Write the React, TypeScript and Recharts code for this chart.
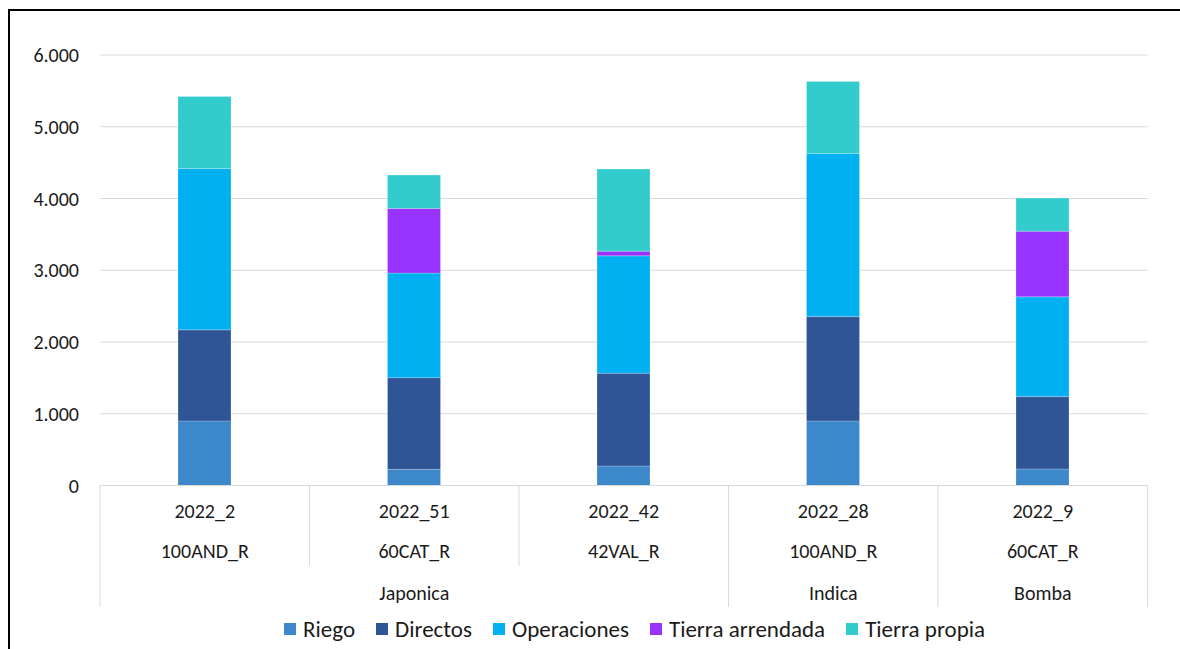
import { Bar, BarChart, CartesianGrid, Legend, XAxis, YAxis } from 'recharts';

const categories = ['2022_2', '2022_51', '2022_42', '2022_28', '2022_9'];
const varieties = ['100AND_R', '60CAT_R', '42VAL_R', '100AND_R', '60CAT_R'];
const groups = ['Japonica', 'Japonica', 'Japonica', 'Indica', 'Bomba'];

const riego = [900, 226, 272, 900, 230];
const directos = [1269, 1277, 1293, 1454, 1009];
const operaciones = [2249, 1457, 1636, 2274, 1390];
const tierraArrendada = [0, 901, 65, 0, 916];
const tierraPropia = [1005, 465, 1144, 1004, 461];

const yTicks = [0, 1000, 2000, 3000, 4000, 5000, 6000];

const series = [
  { key: 'riego', name: 'Riego', color: '#3d87cb', values: riego },
  { key: 'directos', name: 'Directos', color: '#2f5597', values: directos },
  { key: 'operaciones', name: 'Operaciones', color: '#00b0f0', values: operaciones },
  { key: 'arrendada', name: 'Tierra arrendada', color: '#9933ff', values: tierraArrendada },
  { key: 'propia', name: 'Tierra propia', color: '#33cccc', values: tierraPropia },
];

const data = categories.map((cat, i) => {
  const row: Record<string, string | number> = { cat };
  series.forEach((s) => {
    row[s.key] = s.values[i];
  });
  return row;
});

const FONT = 'Carlito, Calibri, Lato, sans-serif';
const TEXT = '#1a1a1a';
const LINE = '#d9d9d9';
const TICK_SIZE = 20;

const formatThousands = (v: number) => String(v).replace(/\B(?=(\d{3})+(?!\d))/g, '.');

function CategoryTick(props: any) {
  const { x, y, payload } = props;
  const i: number = payload.index;
  const half: number = payload.offset ?? 104.75;
  const left = x - half;
  const firstInGroup = i === 0 || groups[i] !== groups[i - 1];
  const isLast = i === categories.length - 1;
  let groupSize = 1;
  while (i + groupSize < groups.length && groups[i + groupSize] === groups[i]) groupSize++;

  const textProps = {
    textAnchor: 'middle' as const,
    dominantBaseline: 'middle' as const,
    fontSize: TICK_SIZE,
    fill: TEXT,
    fontFamily: FONT,
  };

  return (
    <g>
      <line x1={left} x2={left} y1={y} y2={y + (firstInGroup ? 121.5 : 80)} stroke={LINE} strokeWidth={1} />
      {isLast && <line x1={x + half} x2={x + half} y1={y} y2={y + 121.5} stroke={LINE} strokeWidth={1} />}
      <text x={x} y={y + 28} {...textProps}>
        {categories[i]}
      </text>
      <text x={x} y={y + 68} {...textProps}>
        {varieties[i]}
      </text>
      {firstInGroup && (
        <text x={x + (groupSize - 1) * half} y={y + 110} {...textProps}>
          {groups[i]}
        </text>
      )}
    </g>
  );
}

function LegendContent(props: any) {
  const order = series.map((s) => s.name);
  const items = [...(props.payload ?? [])].sort(
    (a: any, b: any) => order.indexOf(a.value) - order.indexOf(b.value),
  );
  return (
    <div style={{ display: 'flex', alignItems: 'center', height: 24, fontFamily: FONT, fontSize: 23, color: TEXT }}>
      {items.map((it: any) => (
        <div key={it.value} style={{ display: 'flex', alignItems: 'center', marginRight: 21 }}>
          <span style={{ display: 'inline-block', width: 12, height: 12, background: it.color, marginRight: 7 }} />
          <span>{it.value}</span>
        </div>
      ))}
    </div>
  );
}

export default function App() {
  return (
    <div style={{ position: 'fixed', left: 0, top: 0, width: 1180, height: 649, overflow: 'hidden', background: '#fff' }}>
      <div
        style={{
          position: 'absolute',
          left: 7.5,
          top: 9,
          width: 1300,
          height: 800,
          border: '2.2px solid #000',
          boxSizing: 'border-box',
        }}
      />
      <div style={{ position: 'absolute', left: 0, top: 0 }}>
        <BarChart
          width={1180}
          height={649}
          data={data}
          margin={{ top: 55, right: 32.5, bottom: 17.5, left: 0 }}
          barSize={53}
        >
          <CartesianGrid vertical={false} stroke={LINE} />
          <XAxis
            dataKey="cat"
            height={122}
            interval={0}
            tickLine={false}
            tickSize={0}
            tickMargin={0}
            axisLine={{ stroke: LINE }}
            tick={<CategoryTick />}
          />
          <YAxis
            width={100}
            domain={[0, 6000]}
            ticks={yTicks}
            axisLine={false}
            tickLine={false}
            tickSize={0}
            tickMargin={21}
            tickFormatter={formatThousands}
            tick={{ fontSize: TICK_SIZE, fill: TEXT, fontFamily: FONT }}
          />
          <Legend
            verticalAlign="bottom"
            height={24}
            content={<LegendContent />}
            wrapperStyle={{ left: 284, bottom: 8, width: 'auto' }}
          />
          {series.map((s) => (
            <Bar
              key={s.key}
              dataKey={s.key}
              name={s.name}
              stackId="a"
              fill={s.color}
              stroke="rgba(255,255,255,0.35)"
              strokeWidth={0.6}
              isAnimationActive={false}
            />
          ))}
        </BarChart>
      </div>
    </div>
  );
}
